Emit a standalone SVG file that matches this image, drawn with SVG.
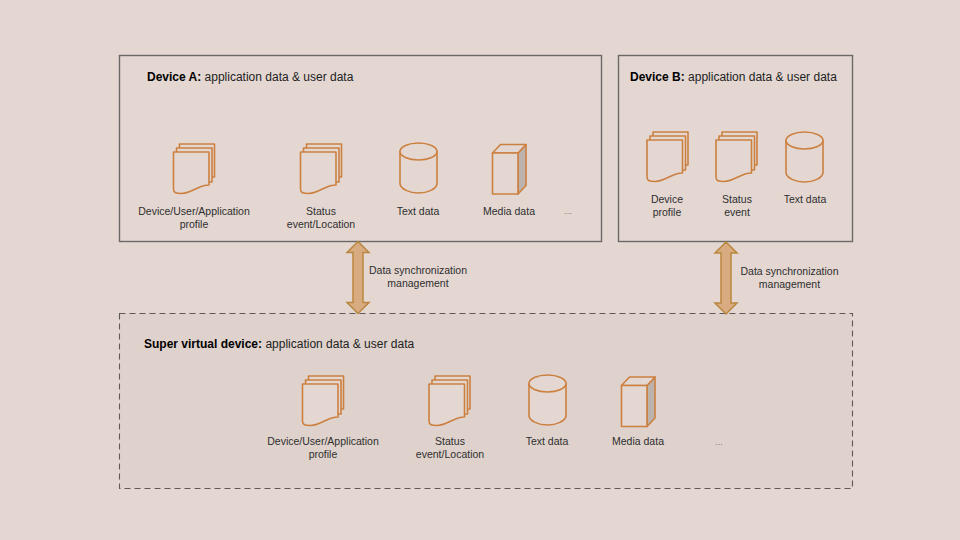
<svg xmlns="http://www.w3.org/2000/svg" width="960" height="540" viewBox="0 0 960 540" xmlns:xlink="http://www.w3.org/1999/xlink">
<style>
text{font-family:"Liberation Sans",Arial,sans-serif;font-size:10.5px;fill:#2e2e2e;text-anchor:middle}
.t{font-size:12px;text-anchor:start;fill:#222}
.t tspan{font-weight:bold;fill:#000}
.d{font-size:9px;fill:#777}
.box{fill:none;stroke:#6c6866;stroke-width:1.4}
.dash{fill:#dfd2cc;stroke:#5f5a58;stroke-width:1.1;stroke-dasharray:6 4}
.i{fill:#e4d7d2;stroke:#cc8040;stroke-width:1.6;stroke-linejoin:round}
.s{fill:#bdb3ae;stroke:#cc8040;stroke-width:1.6;stroke-linejoin:round}
.arrow{fill:#d8ab80;stroke:#b9873e;stroke-width:1.5;stroke-linejoin:miter}
</style>
<defs>
<g id="doc">
<path class="i" d="M6-13H41V20H6Z"/>
<path class="i" d="M3-9H38.500V25H3Z"/>
<path class="i" d="M0-5H35.500V28C24 28 19 36.500 8 36.500C3 36.500 0 36 0 32Z"/>
</g>
<g id="cyl">
<path class="i" d="M0 8V41C1 46 9 50 18.500 50C28 50 36 46 37 41V8"/>
<ellipse class="i" cx="18.500" cy="8.500" rx="18.500" ry="8.500"/>
</g>
<g id="cube">
<path class="s" d="M25.500 8.500L33.500 0V41L25.500 49.500Z"/>
<path class="i" d="M0 8.500L8 0H33.500L25.500 8.500Z"/>
<rect class="i" x="0" y="8.500" width="25.500" height="41"/>
</g>
<path id="ar" class="arrow" d="M0-36L11-25H5V25H11L0 36L-11 25H-5V-25H-11Z"/>
</defs>
<rect width="960" height="540" fill="#e4d7d2"/>
<g id="device-a">
<rect class="box" x="119.500" y="55.500" width="482" height="186"/>
<text class="t" x="147" y="81"><tspan>Device A:</tspan> application data &amp; user data</text>
<use xlink:href="#doc" href="#doc" x="173.500" y="157"/>
<text x="194" y="214.500">Device/User/Application</text><text x="194" y="227.500">profile</text>
<use xlink:href="#doc" href="#doc" x="300.500" y="157"/>
<text x="321" y="214.500">Status</text><text x="321" y="227.500">event/Location</text>
<use xlink:href="#cyl" href="#cyl" x="400" y="143"/>
<text x="418" y="214.500">Text data</text>
<use xlink:href="#cube" href="#cube" x="492.500" y="144.500"/>
<text x="509" y="214.500">Media data</text>
<text class="d" x="568" y="214">...</text>
</g>
<g id="device-b">
<rect class="box" x="618.500" y="55.500" width="234" height="186"/>
<text class="t" x="630" y="81"><tspan>Device B:</tspan> application data &amp; user data</text>
<use xlink:href="#doc" href="#doc" x="647" y="145"/>
<text x="667" y="203">Device</text><text x="667" y="216">profile</text>
<use xlink:href="#doc" href="#doc" x="716" y="145"/>
<text x="737" y="203">Status</text><text x="737" y="216">event</text>
<use xlink:href="#cyl" href="#cyl" x="786" y="132"/>
<text x="805" y="203">Text data</text>
</g>
<g id="super-device">
<rect class="dash" x="119.500" y="313.500" width="733" height="175"/>
<text class="t" x="144" y="347.500"><tspan>Super virtual device:</tspan> application data &amp; user data</text>
<use xlink:href="#doc" href="#doc" x="302.500" y="389"/>
<text x="323" y="445">Device/User/Application</text><text x="323" y="458">profile</text>
<use xlink:href="#doc" href="#doc" x="429" y="389"/>
<text x="450" y="445">Status</text><text x="450" y="458">event/Location</text>
<use xlink:href="#cyl" href="#cyl" x="529" y="375"/>
<text x="547" y="445">Text data</text>
<use xlink:href="#cube" href="#cube" x="621.500" y="377"/>
<text x="638" y="445">Media data</text>
<text class="d" x="719" y="445">...</text>
</g>
<g id="connectors">
<use xlink:href="#ar" href="#ar" x="358" y="277.500"/>
<use xlink:href="#ar" href="#ar" x="726" y="278"/>
</g>
<g id="labels">
<text x="418" y="274">Data synchronization</text><text x="418" y="287">management</text>
<text x="789.500" y="275">Data synchronization</text><text x="789.500" y="288">management</text>
</g>
</svg>
